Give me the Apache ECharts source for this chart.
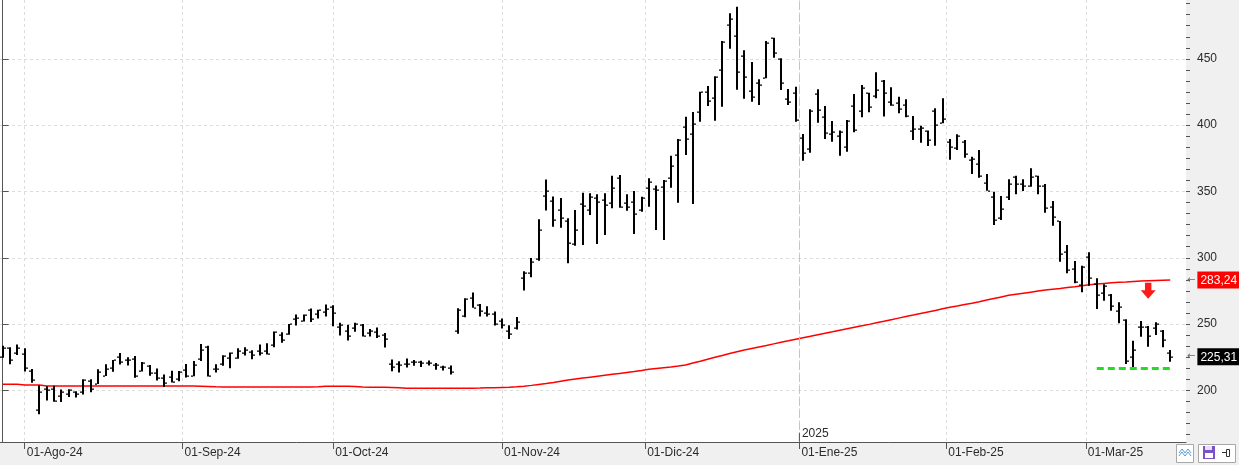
<!DOCTYPE html>
<html><head><meta charset="utf-8">
<script src="https://cdn.jsdelivr.net/npm/echarts@6/dist/echarts.min.js"></script>
<style>html,body{margin:0;padding:0;background:#f0f0f0}#c{width:1239px;height:465px}</style>
</head><body><div id="c"></div>
<script>
// trading days per month
const tradingDays = [
  ['2024-07', [29,30,31]],
  ['2024-08', [1,2,5,6,7,8,9,12,13,14,15,16,19,20,21,22,23,26,27,28,29,30]],
  ['2024-09', [3,4,5,6,9,10,11,12,13,16,17,18,19,20,23,24,25,26,27,30]],
  ['2024-10', [1,2,3,4,7,8,9,10,11,14,15,16,17,18,21,22,23,24,25,28,29,30,31]],
  ['2024-11', [1,4,5,6,7,8,11,12,13,14,15,18,19,20,21,22,25,26,27,29]],
  ['2024-12', [2,3,4,5,6,9,10,11,12,13,16,17,18,19,20,23,24,26,27,30,31]],
  ['2025-01', [2,3,6,7,8,10,13,14,15,16,17,21,22,23,24,27,28,29,30,31]],
  ['2025-02', [3,4,5,6,7,10,11,12,13,14,18,19,20,21,24,25,26,27,28]],
  ['2025-03', [3,4,5,6,7,10,11,12,13,14,17,18]]
];
const monthNames = ['Ene','Feb','Mar','Abr','May','Jun','Jul','Ago','Sep','Oct','Nov','Dic'];

const openP = [224.9,232.25,227.9,227.69,214.88,185.22,200.75,200.77,195.7,197.05,
199.02,198.47,207.39,205.02,211.15,217.07,224.88,222.67,223.82,214.46,
218.75,213.25,209.72,209.8,208.63,215.26,210.59,223.49,232.6,216.2,
220.07,224.55,224.66,228.0,229.3,229.45,230.09,234.0,241.52,242.61,
254.08,252.54,260.6,257.38,259.04,262.67,247.55,244.48,246.69,249.0,
243.56,243.82,241.81,220.13,220.13,220.01,221.4,221.59,220.71,218.9,
217.31,217.13,244.68,256.01,270.0,264.51,258.04,257.99,252.04,244.56,
247.34,284.67,288.89,299.14,346.3,342.74,335.85,327.69,310.57,340.73,
335.76,345.0,343.81,341.09,360.14,341.0,341.8,336.08,352.38,351.8,
353.2,360,377.5,398.4,393,409.7,424.8,420.3,441.4,475.9,
467.6,452,425.8,431.6,435.8,465.5,450,419.8,424,390.6,
381.8,423.3,406,393.1,391.6,383.3,414.5,410.7,424,422,
433.3,417.3,417,415.2,395.6,397.2,395.6,411,401.9,387.1,
382.6,387.6,373.8,370.7,356.6,345.6,329.8,345.6,360.7,355.7,
354.1,361.7,354.1,338.6,327.7,304.6,291.6,279.5,300.8,280.2,
273.2,271.9,259.9,253.1,225,248,248,246.8,245,228];
const highP = [233.7,232.5,234.7,231.8,216.1,203.8,203.2,203.5,200.7,200.9,
199.4,208.5,208.4,215.9,219.8,223.0,228.2,225.0,225.9,221.4,
219.1,216.5,212.0,214.9,214.6,219.9,222.2,235.0,233.7,219.8,
226.5,228.6,231.8,232.6,230.2,234.7,235.6,244.5,243.9,250.0,
257.3,257.2,261.8,260.8,264.7,264.2,251.1,249.5,251.0,250.0,
246.3,247.5,243.2,223.4,222.0,224.1,223.0,222.4,222.5,220.7,
218.6,218.8,262.0,269.5,273.8,265.1,263.5,259.5,254.2,249.1,
255.4,289.8,299.9,329.0,359.0,346.3,345.0,329.9,336.0,349.0,
348.6,347.9,348.6,361.9,362.4,347.9,350.4,346.1,360.0,354.5,
358.7,377,389.6,406.4,409.9,425.3,429.6,436.9,463.5,484.4,
489.4,456.6,447.7,434.6,463.5,466,450.4,427.3,429,393.4,
412,427.1,414.5,403.2,395.9,403.9,423.5,430.3,424.5,439.9,
434.1,428.6,421.5,419.5,407,399.6,395.9,412.7,420.3,389.5,
393.2,388.8,376.2,381.3,363.2,349.9,346.6,359.2,361.9,359.2,
367.5,361.9,355.7,342.8,327.7,309.7,297.6,294,304.1,284.5,
280,272.7,266.4,253.6,237.5,252.3,248.6,251.4,245.5,230.5];
const lowP = [224.7,219.7,226.7,214.2,205.7,182.0,192.3,191.5,191.2,195.0,
194.6,197.0,198.7,204.9,210.9,214.1,219.6,218.8,209.6,214.2,
211.1,207.5,202.5,206.0,207.0,209.8,210.6,222.2,210.5,213.6,
218.6,216.8,223.9,226.3,223.5,226.4,227.0,232.5,236.0,242.0,
249.0,252.0,251.6,254.2,255.7,248.3,241.4,237.7,244.3,240.6,
240.7,239.5,232.3,214.4,213.6,217.2,218.6,217.7,218.8,215.5,
215.1,212.0,242.8,255.2,262.3,255.8,255.7,249.0,246.7,238.8,
245.9,275.3,285.3,297.7,335.6,323.4,322.6,295.9,309.1,309.6,
332.3,310.4,317.2,337.3,337.8,335.5,317.9,334.7,338.5,321,
313.4,352.9,341.6,377.5,340.5,402.6,414.5,403.4,413.9,457.7,
426.8,420,417.7,415.2,435.4,450.9,426.5,415.2,402.6,373.2,
379.3,401.9,389.6,387.6,377,380,394.6,406,409.7,420.3,
406.5,414.7,409,406,388.8,386.8,384.3,384.5,401.4,374,
381.3,375.5,363.2,360.4,350.6,324.7,328.5,343.6,347.9,350.4,
353.6,347.9,334,324.2,297,288.3,280.8,274,279,261.4,
267.6,260.1,250.6,219.9,217.4,240.5,233,241.8,232.5,221.6];
const closeP = [232.1,222.62,232.07,216.86,207.67,198.88,200.64,191.76,198.84,200.0,
197.49,207.83,201.38,214.14,216.12,222.72,221.1,223.27,210.66,220.32,
213.21,209.21,205.75,206.28,214.11,210.6,219.41,230.17,210.73,216.27,
226.17,228.13,229.81,230.29,226.78,227.87,227.2,243.92,238.25,250.0,
254.27,257.02,254.22,260.46,261.63,258.02,249.02,240.66,250.08,240.83,
244.5,241.05,238.77,217.8,219.16,219.57,221.33,220.89,220.7,218.85,
217.97,213.65,260.48,269.19,262.51,259.52,257.55,249.85,248.98,242.84,
251.44,288.53,296.91,321.22,350.0,328.49,330.24,311.18,320.72,338.74,
346.0,342.03,339.64,352.56,338.59,338.23,332.89,345.16,357.09,351.42,
357.9,369.5,389.2,389.8,401,424.8,418.1,436.2,463.0,479.9,
440.1,436.2,421.1,430.6,462.3,454.1,431.7,417.4,403.8,379.3,
410.4,411.1,394.4,394.9,394.7,403.3,396.4,428.2,413.8,426.5,
424.1,415.1,412.4,406.6,397.2,398.1,389.1,400.3,404.6,383.7,
392.2,378.2,374.3,361.6,350.7,328.5,336.5,355.9,355.8,354.1,
360.6,354.4,337.8,330.5,302.8,290.8,282,293,284.7,272,
279.1,263.5,262.7,222.2,230.6,248.1,240.7,250,238,225.31];
const ma200 = [204.6,204.6,204.6,204.1,204.1,204.1,203.4,203.3,203.3,203.3,
203.3,203.3,203.3,203.3,203.3,203.3,203.3,203.3,203.3,203.3,
203.3,203.3,203.3,203.3,203.3,203.3,203.3,203.2,203.0,202.7,
202.6,202.6,202.6,202.6,202.6,202.6,202.6,202.6,202.6,202.6,
202.6,202.6,202.6,202.8,203.1,203.2,203.2,203.1,202.9,202.5,
202.3,202.3,202.3,202.2,202.0,201.7,201.6,201.6,201.6,201.6,
201.6,201.6,201.6,201.6,201.7,201.8,202.0,202.1,202.2,202.3,
202.7,203.2,203.8,204.5,205.2,206.0,206.9,207.8,208.6,209.3,
210.0,210.7,211.4,212.1,212.8,213.5,214.2,215.0,215.9,216.5,
217.1,217.7,218.4,219.2,220.6,222.0,223.5,225.0,226.4,227.8,
229.2,230.4,231.6,232.8,233.9,235.1,236.3,237.4,238.6,239.7,
240.8,242.0,243.1,244.2,245.4,246.5,247.6,248.7,249.8,251.0,
252.1,253.3,254.5,255.7,256.8,258.0,259.2,260.3,261.5,262.7,
263.7,264.8,265.8,266.9,268.1,269.3,270.5,271.7,272.5,273.3,
274.1,274.9,275.7,276.3,276.9,277.6,278.2,279.0,279.7,280.2,
280.7,281.2,281.5,281.8,282.2,282.5,282.7,282.9,283.1,283.24];

const yMajorTicks = [200, 250, 300, 350, 400, 450];
const supportLine = {level: 216.9, from: 149, to: 159};
const signalArrow = [156, 275.1];

// ---- derived ----
const dates = [];
tradingDays.forEach(([ym, days]) => days.forEach(d => dates.push(ym + '-' + String(d).padStart(2, '0'))));
const monthMarks = [];   // {pos,label}
let yearPos = null, yearLabel = '';
for (let i = 1; i < dates.length; i++) {
  const a = dates[i - 1], b = dates[i];
  if (a.slice(0, 7) !== b.slice(0, 7)) {
    const day = +b.slice(8, 10);
    const pos = day === 1 ? i : i - 0.5;
    const m = +b.slice(5, 7);
    monthMarks.push({pos, label: '01-' + monthNames[m - 1] + '-' + b.slice(2, 4)});
    if (a.slice(0, 4) !== b.slice(0, 4)) { yearPos = pos; yearLabel = b.slice(0, 4); }
  }
}
const Y_MIN = 161.1, Y_MAX = 494.4;
const X_MIN = -0.368, X_MAX = 161.15;
const minorTicks = [];
for (let v = 200 - 50 / 6 * 4; v < Y_MAX; v += 50 / 6) minorTicks.push(+v.toFixed(3));
const lastClose = closeP[closeP.length - 1];
const lastMa = ma200[ma200.length - 1];
const fmt = v => v.toFixed(2).replace('.', ',');

const ohlc = dates.map((d, i) => [i, openP[i], highP[i], lowP[i], closeP[i]]);
const maData = dates.map((d, i) => [i, ma200[i]]);

const FONT = 'Liberation Sans';
const chart = echarts.init(document.getElementById('c'), null, {renderer: 'canvas'});
const priceAxis = (val, bg) => ({
  type: 'value', position: 'right', min: Y_MIN, max: Y_MAX,
  axisLine: {show: false}, axisTick: {show: false}, splitLine: {show: false},
  axisLabel: {
    customValues: [val], margin: 1,
    formatter: () => '{a|←}{b|' + fmt(val) + '}',
    rich: {
      a: {color: '#666', fontFamily: 'DejaVu Sans', fontSize: 10, padding: [0, 2, 0, 0]},
      b: {color: '#fff', backgroundColor: bg, fontFamily: FONT, fontSize: 12, padding: [3, 3, 2, 3]}
    }
  }
});

chart.setOption({
  animation: false,
  backgroundColor: '#f0f0f0',
  grid: {left: 0, right: 53, top: 0, bottom: 23, show: true, backgroundColor: '#ffffff', borderWidth: 0, outerBoundsMode: 'none'},
  xAxis: {
    type: 'value', min: X_MIN, max: X_MAX,
    axisLine: {show: true, onZero: false, lineStyle: {color: '#555', width: 1}},
    axisTick: {show: true, customValues: monthMarks.map(m => m.pos), length: 7, lineStyle: {color: '#555'}},
    axisLabel: {
      customValues: monthMarks.map(m => m.pos), align: 'left', margin: 5, padding: [0, 0, 0, 2],
      color: '#2b2b2b', fontFamily: FONT, fontSize: 12,
      formatter: v => { const m = monthMarks.find(k => Math.abs(k.pos - v) < 1e-6); return m ? m.label : ''; }
    },
    splitLine: {show: true, lineStyle: {color: '#dcdcdc', type: [3, 3], width: 1}}
  },
  yAxis: [
    {
      type: 'value', position: 'right', min: Y_MIN, max: Y_MAX,
      axisLine: {show: true, lineStyle: {color: '#555', width: 1}},
      axisTick: {show: true, customValues: yMajorTicks, length: 6, lineStyle: {color: '#555'}},
      axisLabel: {customValues: yMajorTicks, margin: 11, color: '#2b2b2b', fontFamily: FONT, fontSize: 12},
      splitLine: {show: true, lineStyle: {color: '#dcdcdc', type: [3, 3], width: 1}}
    },
    {
      type: 'value', position: 'right', min: Y_MIN, max: Y_MAX,
      axisLine: {show: false}, axisLabel: {show: false}, splitLine: {show: false},
      axisTick: {show: true, customValues: minorTicks, length: 4, lineStyle: {color: '#555'}}
    },
    priceAxis(lastMa, '#ff0000'),
    priceAxis(lastClose, '#000000')
  ],
  series: [
    {
      name: 'MA200', type: 'line', data: maData, showSymbol: false, z: 2,
      lineStyle: {color: '#ff0000', width: 1.5},
      markLine: {
        silent: true, symbol: 'none', label: {show: false},
        data: [
          {xAxis: yearPos, lineStyle: {color: '#c4c4c4', type: [8, 4], width: 1}},
          [
            {coord: [supportLine.from, supportLine.level], lineStyle: {color: '#22dd22', type: [7, 4], width: 3}},
            {coord: [supportLine.to, supportLine.level]}
          ]
        ]
      },
      markPoint: {
        silent: true,
        data: [
          {
            coord: signalArrow, symbol: 'path://M4,0 L10,0 L10,7 L14,7 L7,15 L0,7 L4,7 Z',
            symbolSize: [15, 16], itemStyle: {color: '#ff1a1a'}, label: {show: false}
          },
          {
            coord: [yearPos, 164.6], symbol: 'rect', symbolSize: [1, 9], itemStyle: {color: '#555'},
            label: {show: true, position: 'right', distance: 2, offset: [0, -4], formatter: yearLabel,
              color: '#2b2b2b', fontFamily: FONT, fontSize: 12}
          }
        ]
      }
    },
    {
      name: 'OHLC', type: 'custom', data: ohlc, z: 3,
      encode: {x: 0, y: [1, 2, 3, 4]},
      renderItem: (params, api) => {
        const i = api.value(0);
        const pO = api.coord([i, api.value(1)]);
        const pH = api.coord([i, api.value(2)]);
        const pL = api.coord([i, api.value(3)]);
        const pC = api.coord([i, api.value(4)]);
        const px = Math.round(pH[0]);
        return {
          type: 'group',
          children: [
            {type: 'rect', shape: {x: px - 1, y: pH[1], width: 2, height: Math.max(1, pL[1] - pH[1])}, style: {fill: '#000'}},
            {type: 'rect', shape: {x: px - 3, y: Math.round(pO[1]) - 0.5, width: 2, height: 1.2}, style: {fill: '#000'}},
            {type: 'rect', shape: {x: px + 1, y: Math.round(pC[1]) - 0.5, width: 2, height: 1.2}, style: {fill: '#000'}}
          ]
        };
      }
    }
  ],
  graphic: [
    {type: 'rect', left: 1176, top: 444, shape: {width: 17, height: 18}, style: {fill: '#fff', stroke: '#a8a8a8', lineWidth: 1}},
    {type: 'polyline', shape: {points: [[1179, 453], [1182, 449], [1185, 453], [1188, 449], [1191, 453]]}, style: {stroke: '#5b9bd5', lineWidth: 1, fill: null}},
    {type: 'polyline', shape: {points: [[1179, 456], [1182, 452], [1185, 456], [1188, 452], [1191, 456]]}, style: {stroke: '#5b9bd5', lineWidth: 1, fill: null}},
    {type: 'rect', left: 1198, top: 444, shape: {width: 37, height: 18}, style: {fill: '#fff', stroke: '#a8a8a8', lineWidth: 1}},
    {type: 'rect', left: 1203, top: 446, shape: {width: 12, height: 13}, style: {fill: '#7b52c8'}},
    {type: 'rect', left: 1205, top: 446, shape: {width: 7, height: 4}, style: {fill: '#e8e0f8'}},
    {type: 'rect', left: 1205, top: 453, shape: {width: 8, height: 5}, style: {fill: '#ffffff'}},
    {type: 'line', shape: {x1: 1222, y1: 452.5, x2: 1230, y2: 452.5}, style: {stroke: '#333', lineWidth: 1}},
    {type: 'rect', left: 1226, top: 449, shape: {width: 3, height: 7}, style: {fill: '#fff', stroke: '#333', lineWidth: 1}}
  ]
});
</script></body></html>
